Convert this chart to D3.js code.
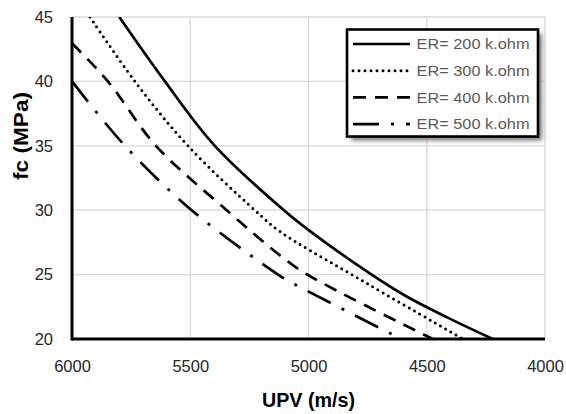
<!DOCTYPE html>
<html><head><meta charset="utf-8">
<script src="https://cdn.jsdelivr.net/npm/d3@7"></script>
<style>body{margin:0;background:#fff}svg{display:block}</style>
</head><body><svg id="c" width="566" height="414"></svg>
<script>
const seriesNames = ["ER= 200 k.ohm", "ER= 300 k.ohm", "ER= 400 k.ohm", "ER= 500 k.ohm"];
const upv200 = [5800, 5607, 5396, 5104, 4981, 4733, 4585, 4416, 4221];
const fc200  = [45, 40, 35, 30, 28.2, 25, 23.3, 21.7, 20];
const upv300 = [5924, 5734, 5510, 5227, 5121, 4817, 4347];
const fc300  = [45, 40, 35, 30, 28.35, 25, 20];
const upv400 = [6000, 5848, 5645, 5346, 5121, 5005, 4474];
const fc400  = [42.96, 40, 35, 30, 26.5, 25, 20];
const upv500 = [6000, 5776, 5494, 5129, 5079, 4607];
const fc500  = [40, 35, 30, 25, 24.45, 20];
const xTicks = [6000, 5500, 5000, 4500, 4000];
const yTicks = [20, 25, 30, 35, 40, 45];
const xTitle = "UPV (m/s)";
const yTitle = "fc (MPa)";

const seriesX = [upv200, upv300, upv400, upv500];
const seriesY = [fc200, fc300, fc400, fc500];
const dashes = [null, "0,6", "13,9", "26,12,3,12"];
const caps = ["butt", "round", "butt", "butt"];
const widths = [2.7, 3, 2.7, 2.7];

const svg = d3.select("#c");
const L = 72, R = 545, T = 17, B = 339;
const x = d3.scaleLinear().domain([6000, 4000]).range([L, R]);
const y = d3.scaleLinear().domain([20, 45]).range([B, T]);

svg.append("rect").attr("width", 566).attr("height", 414).attr("fill", "#fff");

// gridlines
svg.append("g").selectAll("line").data(xTicks.slice(1)).join("line")
  .attr("x1", d => x(d)).attr("x2", d => x(d)).attr("y1", T).attr("y2", B)
  .attr("stroke", "#d9d9d9").attr("stroke-width", 1.3);
svg.append("g").selectAll("line").data(yTicks.slice(1)).join("line")
  .attr("x1", L).attr("x2", R).attr("y1", d => y(d)).attr("y2", d => y(d))
  .attr("stroke", "#d9d9d9").attr("stroke-width", 1.3);

// clip
svg.append("clipPath").attr("id", "clip").append("rect")
  .attr("x", L).attr("y", T).attr("width", R - L).attr("height", B - T);

const line = d3.line().x(d => x(d[0])).y(d => y(d[1])).curve(d3.curveCatmullRom.alpha(0.5));
const g = svg.append("g").attr("clip-path", "url(#clip)");
seriesX.forEach((xs, i) => {
  const pts = xs.map((v, j) => [v, seriesY[i][j]]);
  g.append("path").attr("d", line(pts)).attr("fill", "none").attr("stroke", "#000")
    .attr("stroke-width", widths[i]).attr("stroke-dasharray", dashes[i])
    .attr("stroke-linecap", caps[i]);
});

// axes
const xAxis = svg.append("g").attr("transform", `translate(0,${B})`)
  .call(d3.axisBottom(x).tickValues(xTicks).tickSize(0).tickPadding(21).tickFormat(d3.format("d")));
xAxis.select(".domain").remove();
xAxis.selectAll("text").attr("font-family", "Liberation Sans, Arial, sans-serif")
  .attr("font-size", 16.5).attr("fill", "#262626");
const yAxis = svg.append("g").attr("transform", `translate(${L},0)`)
  .call(d3.axisLeft(y).tickValues(yTicks).tickSize(0).tickPadding(19).tickFormat(d3.format("d")));
yAxis.select(".domain").remove();
yAxis.selectAll("text").attr("font-family", "Liberation Sans, Arial, sans-serif")
  .attr("font-size", 16.5).attr("fill", "#262626");

svg.append("line").attr("x1", L).attr("x2", R).attr("y1", B).attr("y2", B)
  .attr("stroke", "#000").attr("stroke-width", 3);
svg.append("line").attr("x1", L).attr("x2", L).attr("y1", T).attr("y2", B + 1.5)
  .attr("stroke", "#000").attr("stroke-width", 3);

// titles
svg.append("text").attr("x", 308.5).attr("y", 407).attr("text-anchor", "middle")
  .attr("font-family", "Liberation Sans, Arial, sans-serif").attr("font-weight", "bold")
  .attr("font-size", 19.5).attr("textLength", 93).attr("lengthAdjust", "spacingAndGlyphs")
  .attr("fill", "#000").text(xTitle);
svg.append("text").attr("transform", `translate(28,136) rotate(-90)`).attr("text-anchor", "middle")
  .attr("font-family", "Liberation Sans, Arial, sans-serif").attr("font-weight", "bold")
  .attr("font-size", 19.5).attr("textLength", 88).attr("lengthAdjust", "spacingAndGlyphs")
  .attr("fill", "#000").text(yTitle);

// legend
const defs = svg.append("defs");
const f = defs.append("filter").attr("id", "sh").attr("x", "-20%").attr("y", "-20%").attr("width", "140%").attr("height", "140%");
f.append("feGaussianBlur").attr("stdDeviation", 2);
const lx = 347, ly = 29.5, lw = 191, lh = 107;
svg.append("rect").attr("x", lx + 4).attr("y", ly + 4).attr("width", lw).attr("height", lh)
  .attr("fill", "#7a7a7a").attr("filter", "url(#sh)");
svg.append("rect").attr("x", lx).attr("y", ly).attr("width", lw).attr("height", lh)
  .attr("fill", "#fff").attr("stroke", "#000").attr("stroke-width", 2.6);
const leg = svg.append("g");
seriesNames.forEach((name, i) => {
  const cy = 44 + i * 26.7;
  leg.append("line").attr("x1", 353).attr("x2", 410).attr("y1", cy).attr("y2", cy)
    .attr("stroke", "#000").attr("stroke-width", widths[i])
    .attr("stroke-dasharray", dashes[i]).attr("stroke-linecap", caps[i]);
  leg.append("text").attr("x", 416.5).attr("y", cy + 5.3)
    .attr("font-family", "Liberation Sans, Arial, sans-serif").attr("font-size", 15)
    .attr("textLength", 113).attr("lengthAdjust", "spacingAndGlyphs")
    .attr("fill", "#595959").text(name);
});
</script></body></html>
